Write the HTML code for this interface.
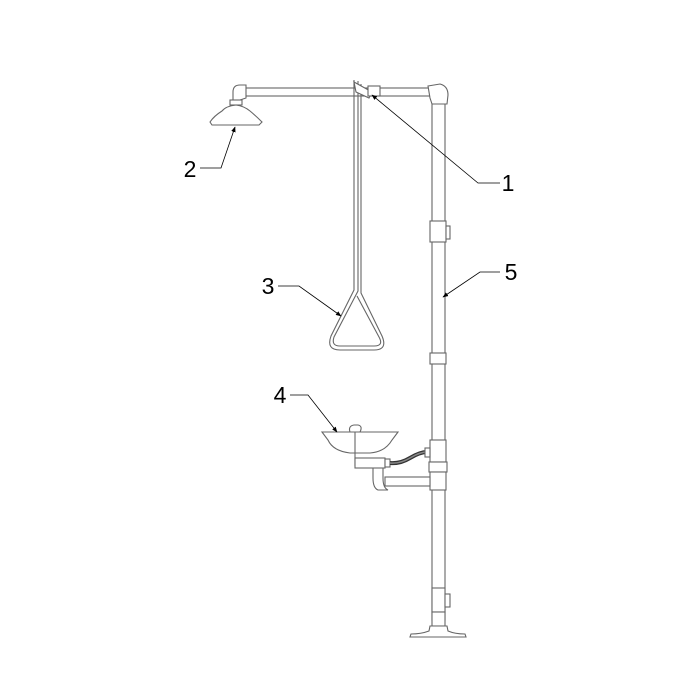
<!DOCTYPE html>
<html><head><style>html,body{margin:0;padding:0;background:#fff;}svg{display:block}</style></head>
<body>
<svg width="700" height="700" viewBox="0 0 700 700" xmlns="http://www.w3.org/2000/svg" font-family="Liberation Sans, sans-serif">
<defs><marker id="a" viewBox="0 0 10 10" refX="9" refY="5" markerWidth="7" markerHeight="7" orient="auto"><path d="M0,1 L10,5 L0,9 z" fill="#000"/></marker></defs>
<g fill="#fff" stroke="#666" stroke-width="1.1">
<rect x="244" y="88" width="186" height="8"/>
<path d="M233,100 L233,92 Q233,85 240,85 L246,85 L246,98 L240,100 Z"/>
<rect x="230" y="100" width="12" height="5"/>
<path d="M236,105 Q226,106 222,111 Q214,116 210,122 L212,125 L259,125 L262,122 Q256,116 250,111 Q244,106 236,105 Z"/>
<rect x="432" y="100" width="13" height="520"/>
<path d="M428,86 L440,84 Q448,86 448,95 L447,104 L432,104 L430,98 Z"/>
<rect x="430" y="221" width="16" height="21"/>
<rect x="446" y="226" width="4" height="13"/>
<rect x="430" y="353" width="16" height="11"/>
<rect x="430" y="440" width="16" height="22"/>
<rect x="429" y="462" width="18" height="10"/>
<rect x="430" y="472" width="16" height="18"/>
<rect x="385" y="477" width="45" height="9"/>
<path d="M373,478 L373,468 L383,468 L383,478 Q383,488 388,490 L378,490 Q373,488 373,478 Z"/>
<path d="M322,432 L398,432 L392,440 Q385,452 370,453 L350,453 Q333,451 328,440 Z"/>
<path d="M350,432 Q348,426 354,425 L358,425 Q363,426 360,432 Z"/>
<line x1="355" y1="432" x2="355" y2="466"/>
<rect x="355" y="458" width="30" height="10"/>
<rect x="385" y="459" width="5" height="8"/>
<path d="M390,463 Q400,464 410,458 Q420,452 427,452" fill="none" stroke="#333" stroke-width="4"/>
<path d="M390,463 Q400,464 410,458 Q420,452 427,452" fill="none" stroke="#888" stroke-width="1.5"/>
<rect x="425" y="448" width="5" height="9"/>
<rect x="432" y="588" width="13" height="24"/>
<rect x="445" y="594" width="5" height="13"/>
<rect x="432" y="612" width="13" height="14"/>
<path d="M430,626 L447,626 L448,631 Q455,634 465,634 L466,637 L410,637 L411,634 Q421,634 429,631 Z"/>
<path d="M354,80 L354,290 L331,336 Q326,350 340,350 L374,350 Q388,350 382,336 L361,293 L361,84" fill="none"/>
<path d="M358,81 L358,291 L334,337 Q331,346 340,346 L374,346 Q384,346 379,337 L357,296" fill="none"/>
<path d="M354,82 L372,92 L369,98 L356,92 Z"/>
<rect x="368" y="86" width="12" height="10"/>
</g>
<g stroke="#000" stroke-width="0.8" fill="none">
<polyline points="500,183 478,183 372,95" marker-end="url(#a)"/>
<polyline points="200,168 221,168 235,127" marker-end="url(#a)"/>
<polyline points="278,286 299,286 341,316" marker-end="url(#a)"/>
<polyline points="290,395 308,395 337,432" marker-end="url(#a)"/>
<polyline points="500,272 480,272 443,297" marker-end="url(#a)"/>
</g>
<g font-size="23" fill="#000" text-anchor="middle">
<text x="508" y="191">1</text>
<text x="190" y="177">2</text>
<text x="268" y="294">3</text>
<text x="280" y="403">4</text>
<text x="511" y="280">5</text>
</g>
</svg>
</body></html>
